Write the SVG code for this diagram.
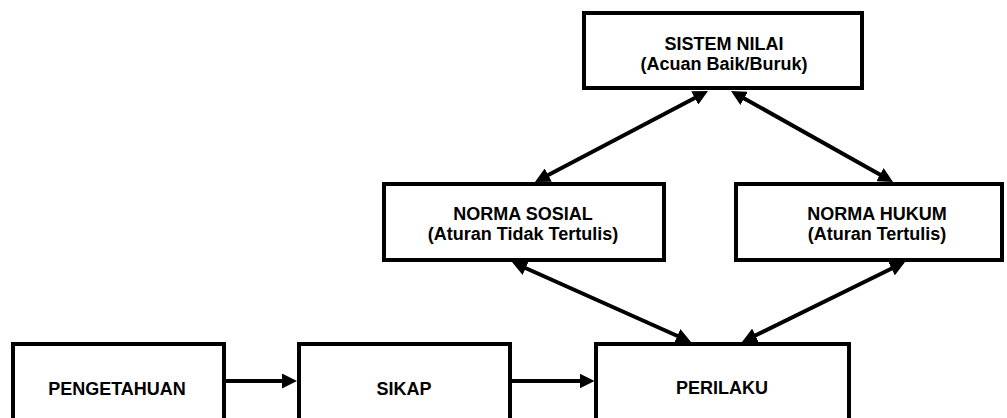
<svg xmlns="http://www.w3.org/2000/svg" width="1007" height="418" viewBox="0 0 1007 418">
  <style>
    .box { fill: #ffffff; stroke: #000000; stroke-width: 4; }
    .lbl { font-family: "Liberation Sans", Arial, sans-serif; font-weight: bold; font-size: 18px; fill: #000000; text-anchor: middle; }
    .con { stroke: #000000; stroke-width: 4; fill: none; }
    .one { marker-end: url(#ah); }
    .two { marker-start: url(#ah); marker-end: url(#ah); }
  </style>
  <defs>
    <marker id="ah" viewBox="0 0 15 15" refX="7" refY="7.5" markerWidth="15" markerHeight="15" markerUnits="userSpaceOnUse" orient="auto-start-reverse">
      <path d="M0,0 L15,7.5 L0,15 z" fill="#000000"/>
    </marker>
  </defs>
  <rect width="1007" height="418" fill="#ffffff"/>

  <g id="sistem-nilai">
    <rect class="box" x="584" y="13" width="278" height="75"/>
    <text class="lbl" x="724" y="50">SISTEM NILAI</text>
    <text class="lbl" x="724" y="70">(Acuan Baik/Buruk)</text>
  </g>
  <g id="norma-sosial">
    <rect class="box" x="384" y="184" width="280" height="76"/>
    <text class="lbl" x="523" y="220">NORMA SOSIAL</text>
    <text class="lbl" x="523" y="240">(Aturan Tidak Tertulis)</text>
  </g>
  <g id="norma-hukum">
    <rect class="box" x="736" y="184" width="266" height="76"/>
    <text class="lbl" x="877" y="220">NORMA HUKUM</text>
    <text class="lbl" x="877" y="240">(Aturan Tertulis)</text>
  </g>
  <g id="pengetahuan">
    <rect class="box" x="13" y="344" width="211" height="100"/>
    <text class="lbl" x="117" y="395">PENGETAHUAN</text>
  </g>
  <g id="sikap">
    <rect class="box" x="299" y="344" width="211" height="100"/>
    <text class="lbl" x="404" y="395">SIKAP</text>
  </g>
  <g id="perilaku">
    <rect class="box" x="596" y="344" width="253" height="100"/>
    <text class="lbl" x="722" y="394">PERILAKU</text>
  </g>

  <g id="connectors">
    <line class="con two" x1="700.92" y1="94.72" x2="542.08" y2="178.28"/>
    <line class="con two" x1="737.98" y1="94.92" x2="886.02" y2="178.08"/>
    <line class="con two" x1="519.3" y1="265.26" x2="683.7" y2="338.74"/>
    <line class="con two" x1="897.82" y1="265.52" x2="749.18" y2="338.48"/>
    <line class="con one" x1="226" y1="381" x2="289" y2="381"/>
    <line class="con one" x1="512" y1="381" x2="586.5" y2="381"/>
  </g>
</svg>
